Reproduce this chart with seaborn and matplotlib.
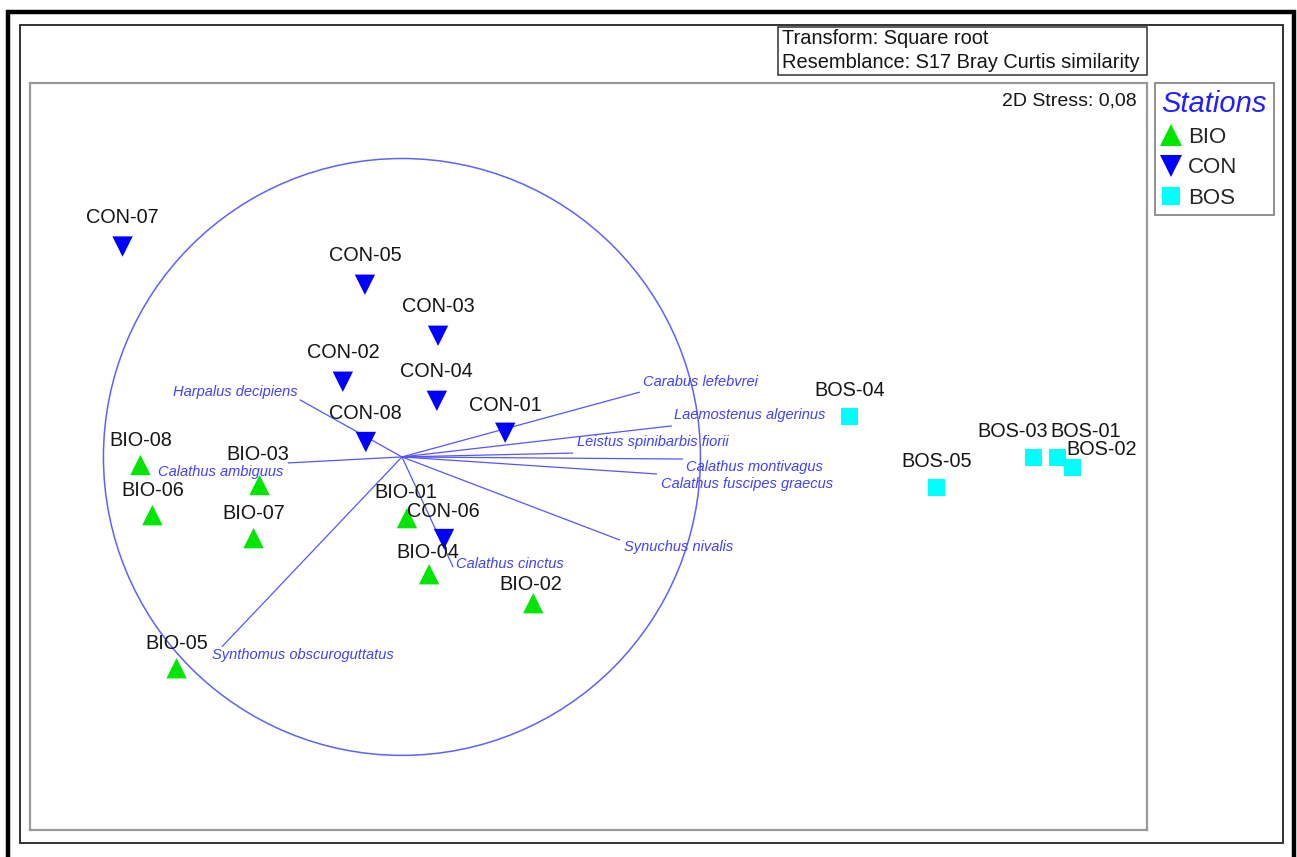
import numpy as np
import pandas as pd
import matplotlib
matplotlib.use("Agg")
import matplotlib.pyplot as plt
import seaborn as sns
from matplotlib.patches import Rectangle, Circle

# ---------------- data ----------------
stations = ["BIO-01", "BIO-02", "BIO-03", "BIO-04", "BIO-05", "BIO-06", "BIO-07", "BIO-08",
            "CON-01", "CON-02", "CON-03", "CON-04", "CON-05", "CON-06", "CON-07", "CON-08",
            "BOS-01", "BOS-02", "BOS-03", "BOS-04", "BOS-05"]
groups = ["BIO"] * 8 + ["CON"] * 8 + ["BOS"] * 5
mds1 = [0.017, 0.440, -0.477, 0.091, -0.755, -0.836, -0.497, -0.876,
        0.346, -0.198, 0.121, 0.117, -0.124, 0.141, -0.936, -0.121,
        2.195, 2.248, 2.117, 1.500, 1.792]
mds2 = [-0.205, -0.490, -0.094, -0.393, -0.708, -0.195, -0.272, -0.027,
        0.081, 0.252, 0.406, 0.188, 0.577, -0.275, 0.705, 0.050,
        -0.003, -0.034, -0.003, 0.134, -0.101]

species = ["Harpalus decipiens", "Calathus ambiguus", "Carabus lefebvrei",
           "Laemostenus algerinus", "Leistus spinibarbis fiorii", "Calathus montivagus",
           "Calathus fuscipes graecus", "Synuchus nivalis", "Calathus cinctus",
           "Synthomus obscuroguttatus"]
vec_x = [-0.341, -0.381, 0.796, 0.903, 0.572, 0.940, 0.853, 0.729, 0.171, -0.602]
vec_y = [0.191, -0.020, 0.217, 0.104, 0.013, -0.007, -0.057, -0.278, -0.368, -0.635]

group_order = ["BIO", "CON", "BOS"]
stress = "0,08"
transform_lines = ["Transform: Square root", "Resemblance: S17 Bray Curtis similarity"]

# ---------------- style ----------------
sns.set_theme(style="white")
plt.rcParams["font.family"] = ["Liberation Sans", "DejaVu Sans"]

W, H = 1297, 857
fig = plt.figure(figsize=(W / 100, H / 100), dpi=100)


def fx(px):
    return px / W


def fy(py):
    return 1 - py / H


ax = fig.add_axes([fx(30), fy(830), (1147 - 30) / W, (830 - 83) / H])

df = pd.DataFrame({"MDS1": mds1, "MDS2": mds2, "Stations": groups, "name": stations})
palette = {"BIO": "#00E600", "CON": "#0000FF", "BOS": "#00FFFF"}
markers = {"BIO": "^", "CON": "v", "BOS": "s"}
sizes = {"BIO": 215, "CON": 215, "BOS": 150}

sns.scatterplot(data=df, x="MDS1", y="MDS2", hue="Stations", style="Stations",
                size="Stations", palette=palette, markers=markers, sizes=sizes,
                hue_order=group_order, style_order=group_order, size_order=group_order,
                edgecolor="none", linewidth=0, ax=ax, zorder=3, legend=True)

# vector overlay
line_col = "#5555FF"
ax.add_patch(Circle((0, 0), 1.0, fill=False, ec="#6060FF", lw=1.1, zorder=1))
for vx, vy in zip(vec_x, vec_y):
    ax.plot([0, vx], [0, vy], color=line_col, lw=0.9, zorder=1)

# species label placement (pixel offsets, alignment)
sp_off = {
    "Harpalus decipiens": (-3, 8, "right"),
    "Calathus ambiguus": (-5, -9, "right"),
    "Carabus lefebvrei": (3, 10, "left"),
    "Laemostenus algerinus": (3, 11, "left"),
    "Leistus spinibarbis fiorii": (4, 11, "left"),
    "Calathus montivagus": (3, -8, "left"),
    "Calathus fuscipes graecus": (4, -10, "left"),
    "Synuchus nivalis": (4, -7, "left"),
    "Calathus cinctus": (3, 3, "left"),
    "Synthomus obscuroguttatus": (-10, -9, "left"),
}
for sp, vx, vy in zip(species, vec_x, vec_y):
    dx, dy, ha = sp_off[sp]
    ax.annotate(sp, (vx, vy), xytext=(dx, dy), textcoords="offset pixels",
                ha=ha, va="center", fontsize=10.5, style="italic", color="#4040FF", zorder=2)

# station labels
default_off = {"BIO": (0, 25), "CON": (0, 29), "BOS": (0, 26)}
label_off = {"BIO-03": (-2, 31), "BIO-04": (-1, 22), "BIO-02": (-3, 19),
             "BOS-03": (-21, 26), "BOS-01": (29, 26), "BOS-02": (29, 18),
             "CON-06": (-1, 28), "BIO-01": (-1, 26), "CON-01": (0, 27)}
for name, g, x, y in zip(stations, groups, mds1, mds2):
    dx, dy = label_off.get(name, default_off[g])
    ax.annotate(name, (x, y), xytext=(dx, dy), textcoords="offset pixels",
                ha="center", va="center", fontsize=14.3, color="#151515", zorder=4)

ax.set_xlim(-1.246, 2.496)
ax.set_ylim(-1.250, 1.253)
ax.set_xticks([])
ax.set_yticks([])
ax.set_xlabel("")
ax.set_ylabel("")
for s in ax.spines.values():
    s.set_color("#999999")
    s.set_linewidth(1.6)
    s.set_visible(True)

# legend
old = ax.get_legend()
handles = list(old.legend_handles)
labels = [t.get_text() for t in old.get_texts()]
pairs = [(h, l) for h, l in zip(handles, labels) if l in group_order]
old.remove()
leg = ax.legend([p[0] for p in pairs], [p[1] for p in pairs], title="Stations",
                loc="upper left", bbox_to_anchor=(fx(1155), fy(83)),
                bbox_transform=fig.transFigure, frameon=True, fancybox=False,
                edgecolor="#888888", framealpha=1, fontsize=16,
                title_fontproperties={"style": "italic", "size": 21},
                labelspacing=0.42, handletextpad=0.35, borderpad=0.3,
                handlelength=0.85, borderaxespad=0, markerscale=1.1)
leg.get_title().set_color("#2020FF")
leg._legend_box.align = "left"
leg.get_frame().set_linewidth(1.3)

# stress text
fig.text(fx(1137), fy(101), "2D Stress: " + stress, ha="right", va="center",
         fontsize=14, color="#151515")

# transform box
fig.patches.append(Rectangle((fx(778), fy(75)), (1147 - 778) / W, 48 / H,
                             transform=fig.transFigure, fill=False, ec="#333333", lw=1.1))
fig.text(fx(782), fy(39), transform_lines[0], ha="left", va="center", fontsize=14.4, color="#151515")
fig.text(fx(782), fy(63), transform_lines[1], ha="left", va="center", fontsize=14.4, color="#151515")

# outer frames
fig.patches.append(Rectangle((fx(20), fy(843)), (1283 - 20) / W, (843 - 25) / H,
                             transform=fig.transFigure, fill=False, ec="#222222", lw=1.3))
fig.patches.append(Rectangle((fx(8), fy(880)), (1294 - 8) / W, (880 - 12) / H,
                             transform=fig.transFigure, fill=False, ec="black", lw=3.2))

fig.savefig("out.png", dpi=100, facecolor="white")
